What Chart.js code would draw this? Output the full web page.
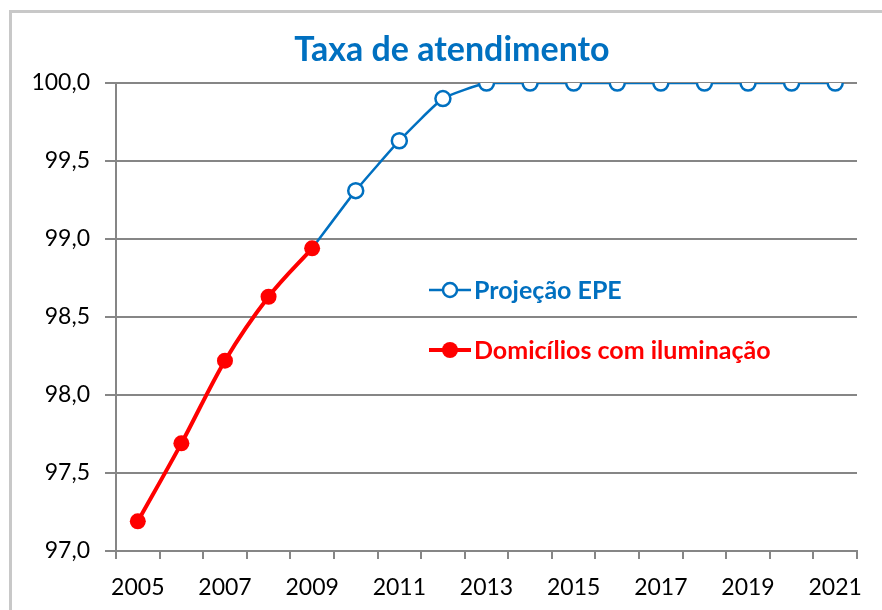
<!DOCTYPE html>
<html>
<head>
<meta charset="utf-8">
<title>Taxa de atendimento</title>
<script src="https://cdn.jsdelivr.net/npm/chart.js@4.4.0/dist/chart.umd.min.js"></script>
<style>
  html, body { margin: 0; padding: 0; background: #fff; }
  #wrap { position: relative; width: 882px; height: 610px; }
</style>
</head>
<body>
<div id="wrap"><canvas id="taxaChart" width="882" height="610"></canvas></div>
<script>
// dados
const anos = ['2005', '2006', '2007', '2008', '2009', '2010', '2011', '2012', '2013',
              '2014', '2015', '2016', '2017', '2018', '2019', '2020', '2021'];
const domicilios = [97.19, 97.69, 98.22, 98.63, 98.94, null, null, null, null,
                    null, null, null, null, null, null, null, null];
const projecaoEPE = [null, null, null, null, 98.94, 99.31, 99.63, 99.90, 100.0,
                     100.0, 100.0, 100.0, 100.0, 100.0, 100.0, 100.0, 100.0];
const yTicks = [97.0, 97.5, 98.0, 98.5, 99.0, 99.5, 100.0];

const titulo = 'Taxa de atendimento';
const nomeProjecao = 'Projeção EPE';
const nomeDomicilios = 'Domicílios com iluminação';

const AZUL = '#0070C0';
const VERMELHO = '#FF0000';
const CINZA = '#868686';
const FONTE = 'Lato, "Open Sans", sans-serif';

function fmt(v) {
    return v.toFixed(1).replace('.', ',');
}

// moldura, título e legenda desenhados à mão (legenda fica dentro da área do gráfico)
const enfeites = {
    id: 'enfeites',
    beforeDraw(chart) {
        const ctx = chart.ctx;
        ctx.save();
        ctx.strokeStyle = '#C8C8C8';
        ctx.lineWidth = 3;
        ctx.strokeRect(10.5, 11.5, 900, 700);
        ctx.restore();
    },
    afterDraw(chart) {
        const ctx = chart.ctx;
        ctx.save();
        ctx.textBaseline = 'middle';
        ctx.textAlign = 'center';
        ctx.fillStyle = AZUL;
        ctx.font = 'bold 34px ' + FONTE;
        ctx.fillText(titulo, 452, 50);

        const itens = [
            { nome: nomeProjecao, cor: AZUL, y: 290, cheio: false },
            { nome: nomeDomicilios, cor: VERMELHO, y: 350, cheio: true }
        ];
        ctx.textAlign = 'left';
        ctx.font = 'bold 25px ' + FONTE;
        itens.forEach(it => {
            ctx.strokeStyle = it.cor;
            ctx.lineWidth = it.cheio ? 4 : 2.5;
            ctx.beginPath();
            ctx.moveTo(429, it.y);
            ctx.lineTo(471, it.y);
            ctx.stroke();
            ctx.beginPath();
            ctx.arc(450, it.y, it.cheio ? 8 : 7, 0, Math.PI * 2);
            ctx.fillStyle = it.cheio ? it.cor : '#fff';
            ctx.fill();
            if (!it.cheio) ctx.stroke();
            ctx.fillStyle = it.cor;
            ctx.fillText(it.nome, 474, it.y + 1);
        });
        ctx.restore();
    }
};

new Chart(document.getElementById('taxaChart'), {
    type: 'line',
    data: {
        labels: anos,
        datasets: [
            {
                label: nomeDomicilios,
                data: domicilios,
                borderColor: VERMELHO,
                backgroundColor: VERMELHO,
                borderWidth: 4,
                pointRadius: 8,
                pointBorderWidth: 0,
                pointBackgroundColor: VERMELHO,
                tension: 0.2,
                cubicInterpolationMode: 'monotone'
            },
            {
                label: nomeProjecao,
                data: projecaoEPE,
                borderColor: AZUL,
                backgroundColor: '#fff',
                borderWidth: 2.5,
                pointRadius: c => c.dataIndex <= 4 ? 0 : 7.5,
                pointBorderWidth: 2.5,
                pointBorderColor: AZUL,
                pointBackgroundColor: '#fff',
                tension: 0.15
            }
        ]
    },
    options: {
        responsive: false,
        animation: false,
        events: [],
        layout: { padding: { left: 10, top: 83, right: 25, bottom: 0 } },
        plugins: {
            legend: { display: false },
            title: { display: false },
            tooltip: { enabled: false }
        },
        scales: {
            x: {
                type: 'category',
                offset: true,
                afterFit: s => { s.height = 59; },
                grid: {
                    offset: true,
                    drawOnChartArea: false,
                    drawTicks: true,
                    tickLength: 8,
                    color: CINZA,
                    lineWidth: 2
                },
                border: { color: CINZA, width: 2 },
                ticks: {
                    autoSkip: false,
                    maxRotation: 0,
                    padding: 15,
                    color: '#000',
                    font: { family: FONTE, size: 23 },
                    callback: function (v, i) {
                        return i % 2 === 0 ? this.getLabelForValue(v) : '';
                    }
                }
            },
            y: {
                min: 97,
                max: 100,
                afterFit: s => { s.width = 106; },
                afterBuildTicks: s => { s.ticks = yTicks.map(v => ({ value: v })); },
                grid: {
                    color: CINZA,
                    lineWidth: 2,
                    tickLength: 11
                },
                border: { color: CINZA, width: 2 },
                ticks: {
                    padding: 15,
                    color: '#000',
                    font: { family: FONTE, size: 23 },
                    callback: v => fmt(v)
                }
            }
        }
    },
    plugins: [enfeites]
});
</script>
</body>
</html>
